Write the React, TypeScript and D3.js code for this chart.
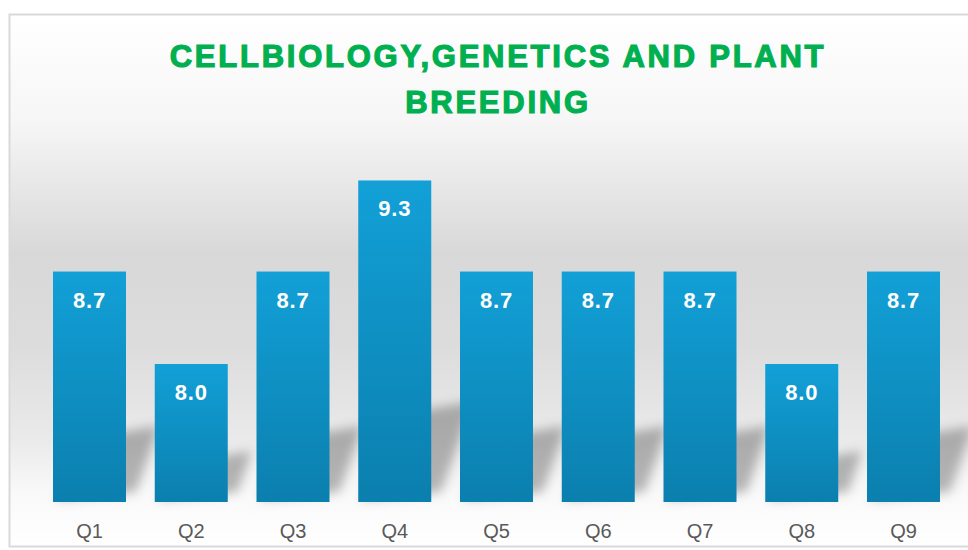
import React from "react";
import * as d3 from "d3";

const categories = ["Q1", "Q2", "Q3", "Q4", "Q5", "Q6", "Q7", "Q8", "Q9"];
const values = [8.67, 8.0, 8.67, 9.33, 8.67, 8.67, 8.67, 8.0, 8.67];
const titleLines = ["CELLBIOLOGY,GENETICS AND PLANT", "BREEDING"];
const yDomain = [7, 9.5];

export default function App() {
  const W = 968;
  const H = 550;
  const base = 502;
  const step = 101.75;
  const p = 1 - 73 / step;
  const x = d3
    .scaleBand<string>()
    .domain(categories)
    .range([53 - step * (p / 2), 53 - step * (p / 2) + 9 * step])
    .paddingInner(p)
    .paddingOuter(p / 2);
  const y = d3.scaleLinear().domain(yDomain).range([base, 157]);
  const fmt = d3.format(".1f");

  const shadowPath = (i: number) => {
    const x0 = x(categories[i])!;
    const x1 = x0 + x.bandwidth();
    const h = base - y(values[i]);
    const k = 0.1 * h;
    const s = 0.27 * h;
    const pts: [number, number][] = [
      [x0 + 4, base - 2],
      [x1 + 10, base - 10],
      [x1 + 10 + k, base - s - 14],
      [x0 + 4 + k, base - s],
    ];
    return d3.line()(pts)! + "Z";
  };

  return (
    <svg
      width={W}
      height={H}
      style={{ position: "absolute", left: 0, top: 0, display: "block" }}
    >
      <defs>
        <linearGradient id="bg" x1="0" y1="0" x2="0" y2="1">
          <stop offset="0" stopColor="#ffffff" />
          <stop offset="0.2" stopColor="#f6f6f6" />
          <stop offset="0.45" stopColor="#d8d8d8" />
          <stop offset="0.62" stopColor="#dcdcdc" />
          <stop offset="0.8" stopColor="#eaeaea" />
          <stop offset="0.9" stopColor="#f9f9f9" />
          <stop offset="1" stopColor="#ffffff" />
        </linearGradient>
        <linearGradient id="bar" x1="0" y1="0" x2="0" y2="1">
          <stop offset="0" stopColor="#12a0d7" />
          <stop offset="1" stopColor="#0b7fae" />
        </linearGradient>
        <filter id="blur" x="-50%" y="-50%" width="200%" height="200%">
          <feGaussianBlur stdDeviation="5.5" />
        </filter>
      </defs>
      <rect x={0} y={0} width={W} height={H} fill="#ffffff" />
      <rect
        x={9.5}
        y={14.5}
        width={1000}
        height={532}
        fill="url(#bg)"
        stroke="#d9d9d9"
        strokeWidth={2}
      />
      <g>
        {titleLines.map((t, i) => (
          <text
            key={t}
            x={498}
            y={67 + i * 46}
            textAnchor="middle"
            fill="#00b050"
            stroke="#00b050"
            strokeWidth={1.2}
            fontFamily="'Liberation Sans', Arial, sans-serif"
            fontWeight="bold"
            fontSize={31}
            letterSpacing={2.75}
          >
            {t}
          </text>
        ))}
      </g>
      <g filter="url(#blur)">
        {values.map((v, i) => (
          <path key={i} d={shadowPath(i)} fill="#000" fillOpacity={0.27} />
        ))}
      </g>
      <g>
        {values.map((v, i) => (
          <rect
            key={categories[i]}
            x={x(categories[i])}
            y={y(v)}
            width={x.bandwidth()}
            height={base - y(v)}
            fill="url(#bar)"
          />
        ))}
      </g>
      <g>
        {values.map((v, i) => (
          <text
            key={categories[i]}
            x={x(categories[i])! + x.bandwidth() / 2}
            y={y(v) + 36}
            textAnchor="middle"
            fill="#ffffff"
            fontFamily="'Liberation Sans', Arial, sans-serif"
            fontWeight="bold"
            fontSize={22}
            letterSpacing={0.8}
          >
            {fmt(v)}
          </text>
        ))}
      </g>
      <g>
        {categories.map((c) => (
          <text
            key={c}
            x={x(c)! + x.bandwidth() / 2}
            y={538}
            textAnchor="middle"
            fill="#595959"
            fontFamily="'Liberation Sans', Arial, sans-serif"
            fontSize={20}
          >
            {c}
          </text>
        ))}
      </g>
    </svg>
  );
}
